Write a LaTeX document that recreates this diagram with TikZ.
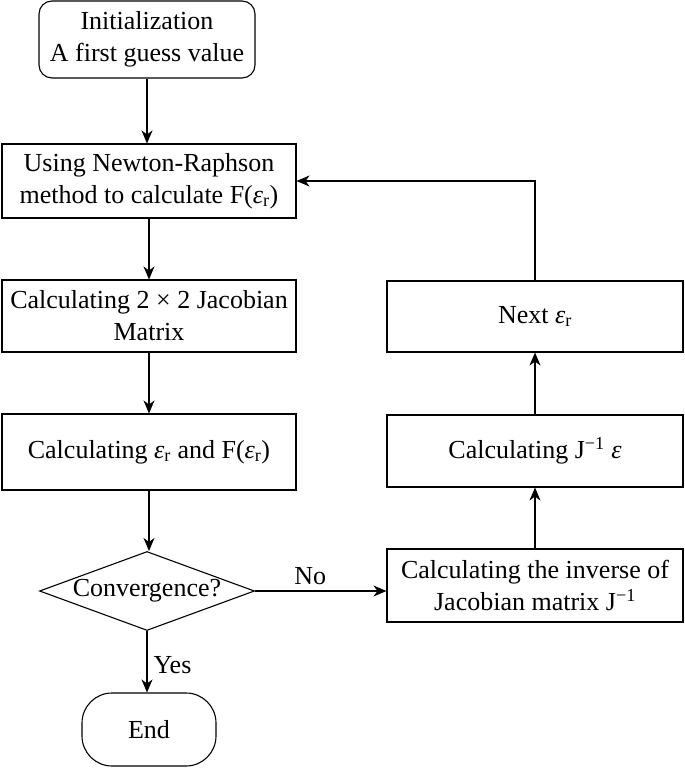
\documentclass[tikz,border=0pt]{standalone}
\usepackage{fontspec}
\setmainfont{Liberation Serif}
\usetikzlibrary{shapes.geometric,arrows.meta}
\newcommand{\er}{\textit{ε}\textsubscript{r}}
\tikzset{
  box/.style={draw, line width=1.1pt, align=center, inner sep=0pt, minimum width=294pt},
  startbox/.style={draw, line width=1.1pt, align=center, rounded corners=13pt, inner sep=0pt, minimum width=216pt, minimum height=77pt},
  endbox/.style={draw, line width=1.1pt, align=center, rounded corners=30pt, inner sep=0pt, minimum width=134pt, minimum height=73pt},
  decision/.style={draw, line width=1.1pt, diamond, aspect=2.72, inner sep=0pt, minimum width=215pt, minimum height=79pt},
  conn/.style={line width=1.1pt, -{Stealth[length=13pt,width=11pt,inset=4pt]}},
  lbl/.style={inner sep=0pt}
}
\begin{document}
\begin{tikzpicture}[x=1pt,y=-1pt,font=\fontsize{26}{32}\selectfont]
\useasboundingbox (0,0) rectangle (685,768);
\node[startbox] (init) at (147,39.5) {Initialization\\A first guess value};
\node[box, minimum height=74pt] (nr) at (149,181) {Using Newton-Raphson\\method to calculate F(\er)};
\node[box, minimum height=72pt] (jac) at (149,316) {Calculating 2 × 2 Jacobian\\Matrix};
\node[box, minimum height=76pt] (eps) at (149,452) {Calculating \er{} and F(\er)};
\node[decision] (conv) at (147,591) {Convergence?};
\node[endbox] (end) at (149,729.5) {End};
\node[box, minimum width=296pt, minimum height=73pt] (inv) at (535,585.5) {Calculating the inverse of\\Jacobian matrix J\textsuperscript{−1}};
\node[box, minimum width=296pt, minimum height=72pt] (jinv) at (535,451) {Calculating J\textsuperscript{−1} \textit{ε}};
\node[box, minimum width=296pt, minimum height=71pt] (next) at (535,316.5) {Next \er};
\draw[conn] (init.south) -- (init.south |- nr.north);
\draw[conn] (nr.south) -- (jac.north);
\draw[conn] (jac.south) -- (eps.north);
\draw[conn] (eps.south) -- (eps.south |- conv.north);
\draw[conn] (conv.south) -- (conv.south |- end.north) node[lbl, pos=0.55, right=6pt] {Yes};
\draw[conn] (conv.east) -- (conv.east -| inv.west) node[lbl, pos=0.42, above=6pt] {No};
\draw[conn] (inv.north) -- (jinv.south);
\draw[conn] (jinv.north) -- (next.south);
\draw[conn] (next.north) |- (nr.east);
\end{tikzpicture}
\end{document}
